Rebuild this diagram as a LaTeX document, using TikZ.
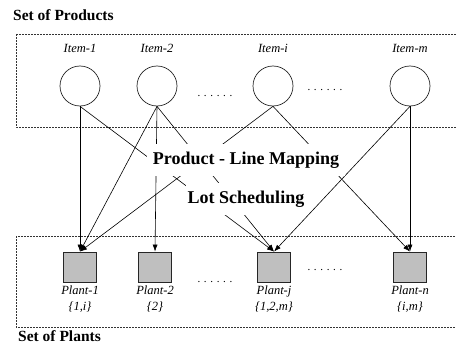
\documentclass[tikz,border=0pt]{standalone}
\usepackage{fontspec}
\setmainfont{Liberation Serif}
\usetikzlibrary{arrows.meta}
\begin{document}
\begin{tikzpicture}[x=1pt,y=-1pt,
  title/.style={font=\fontsize{15.5}{18}\selectfont\bfseries, anchor=west, inner sep=0pt},
  setbox/.style={draw=black!80, line width=0.6pt, dash pattern=on 2pt off 1pt},
  item/.style={circle, draw=black!85, line width=0.7pt, minimum size=40pt, inner sep=0pt},
  plant/.style={rectangle, draw=black!85, line width=0.8pt, fill=black!25, minimum width=33pt, minimum height=30pt, inner sep=0pt},
  lbl/.style={font=\fontsize{12.5}{16}\selectfont\itshape, inner sep=0pt, align=center},
  dots/.style={font=\fontsize{11}{13}\selectfont, inner sep=0pt},
  mapping/.style={font=\fontsize{18}{20}\selectfont\bfseries, fill=white, inner xsep=6pt, inner ysep=7.5pt, text height=13pt, text depth=4pt},
  link/.style={line width=0.6pt, -{Latex[length=7pt,width=5pt]}}
]
\useasboundingbox (0,0) rectangle (456,353);
% titles
\node[title] (tprod) at (13,15) {Set of Products};
\node[title] (tplant) at (18,336) {Set of Plants};
% dashed sets
\draw[setbox] (16,34) rectangle (458,127);
\draw[setbox] (16,236) rectangle (458,327);
% items
\foreach \n/\x/\t in {i1/80/Item-1, i2/157/Item-2, ii/273/Item-i, im/410/Item-m}{
  \node[item] (\n) at (\x,86) {};
  \node[lbl] (\n l) at (\x,48) {\t};
}
\node[dots] (d1) at (215,96) {. . . . . .};
\node[dots] (d2) at (325,90) {. . . . . .};
% plants
\node[plant] (p1) at (80,267) {};
\node[plant] (p2) at (155,267) {};
\node[plant] (pj) at (274,267) {};
\node[plant] (pn) at (410,267) {};
\node[lbl] (p1l) at (80,299) {Plant-1\\\{1,i\}};
\node[lbl] (p2l) at (155,299) {Plant-2\\\{2\}};
\node[lbl] (pjl) at (274,299) {Plant-j\\\{1,2,m\}};
\node[lbl] (pnl) at (410,299) {Plant-n\\\{i,m\}};
\node[dots] (d3) at (215,282) {. . . . . .};
\node[dots] (d4) at (325,270) {. . . . . .};
% connectors
\draw[link] (i1.south) -- (p1.north);
\draw[link] (i1.south) -- (pj.north);
\draw[link] (i2.south) -- (p1.north);
\draw[link] (i2.south) -- (p2.north);
\draw[link] (i2.south) -- (pj.north);
\draw[link] (ii.south) -- (p1.north);
\draw[link] (ii.south) -- (pn.north);
\draw[link] (im.south) -- (pj.north);
\draw[link] (im.south) -- (pn.north);
% labels over connectors
\node[mapping] (plm) at (246,160) {Product - Line Mapping};
\node[mapping, inner xsep=2pt] (ls) at (246,199) {Lot Scheduling};
\end{tikzpicture}
\end{document}
